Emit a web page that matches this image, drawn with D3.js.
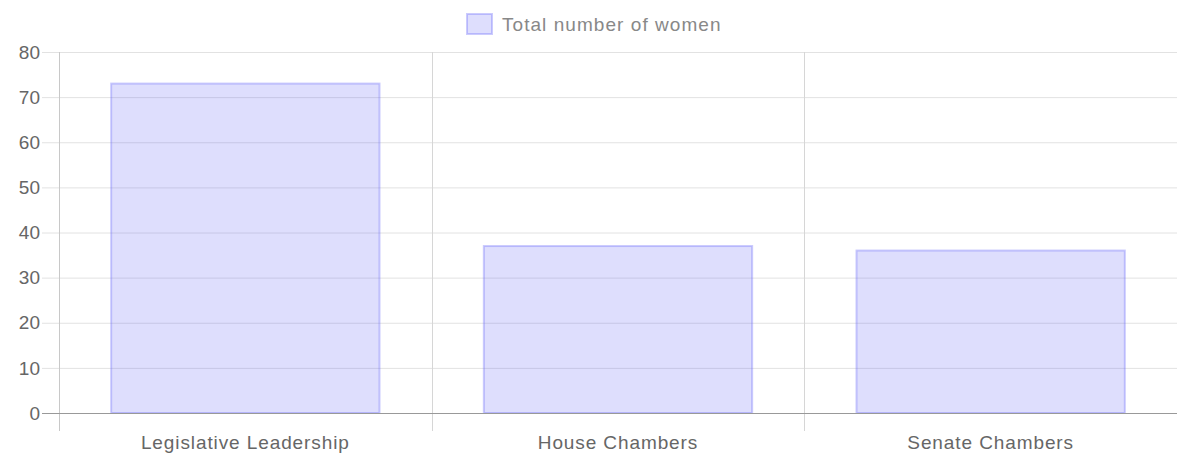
<!DOCTYPE html>
<html><head><meta charset="utf-8">
<script src="https://cdn.jsdelivr.net/npm/d3@7"></script>
<style>body{margin:0;background:#fff}svg{display:block}text{font-family:"Liberation Sans",Arial,Helvetica,sans-serif}</style>
</head><body><svg id="c" width="1200" height="467"></svg>
<script>
const categories = ["Legislative Leadership", "House Chambers", "Senate Chambers"];
const values = [73, 37, 36];
const seriesName = "Total number of women";
const yTicks = [0, 10, 20, 30, 40, 50, 60, 70, 80];

const svg = d3.select("#c");
const m = {l: 59, r: 1177, t: 52, b: 413};
const x = d3.scaleBand().domain(categories).range([m.l, m.r]).paddingInner(0).paddingOuter(0);
const y = d3.scaleLinear().domain([0, 80]).range([m.b, m.t]);
const fill = "rgba(100,100,245,0.21)";
const stroke = "rgba(110,110,250,0.36)";

// horizontal grid
svg.append("g").selectAll("line").data(yTicks).join("line")
  .attr("x1", 42).attr("x2", m.r).attr("y1", d => y(d) + 0.5).attr("y2", d => y(d) + 0.5)
  .attr("stroke", d => d === 0 ? "#999" : "#e2e2e2").attr("stroke-width", 1);
// vertical grid
const vx = [m.l, ...categories.slice(1).map(c => x(c))];
svg.append("g").selectAll("line").data(vx).join("line")
  .attr("x1", d => Math.round(d) + 0.5).attr("x2", d => Math.round(d) + 0.5)
  .attr("y1", m.t).attr("y2", 431)
  .attr("stroke", (d, i) => i === 0 ? "#c8c8c8" : "#d6d6d6");

// bars
const bw = x.bandwidth() * 0.72;
svg.append("g").selectAll("rect").data(values).join("rect")
  .attr("x", (d, i) => x(categories[i]) + (x.bandwidth() - bw) / 2)
  .attr("y", d => y(d))
  .attr("width", bw).attr("height", d => y(0) - y(d))
  .attr("fill", fill).attr("stroke", stroke).attr("stroke-width", 2);

// redraw zero axis line
svg.append("line").attr("x1", 42).attr("x2", m.r).attr("y1", y(0) + 0.5).attr("y2", y(0) + 0.5).attr("stroke", "#999");

// y labels
svg.append("g").selectAll("text").data(yTicks).join("text")
  .attr("x", 40).attr("y", d => y(d)).attr("dy", "0.35em")
  .attr("text-anchor", "end").attr("font-size", 19).attr("fill", "#666").text(d => d);

// x labels
svg.append("g").selectAll("text").data(categories).join("text")
  .attr("x", d => x(d) + x.bandwidth() / 2).attr("y", 449)
  .attr("text-anchor", "middle").attr("font-size", 19).attr("letter-spacing", 0.9)
  .attr("fill", "#666").text(d => d);

// legend
const lg = svg.append("g");
lg.append("rect").attr("x", 467).attr("y", 14).attr("width", 25).attr("height", 20)
  .attr("fill", fill).attr("stroke", stroke).attr("stroke-width", 2);
lg.append("text").attr("x", 502).attr("y", 24).attr("dy", "0.35em")
  .attr("font-size", 19).attr("letter-spacing", 1.05).attr("fill", "#888").text(seriesName);
</script></body></html>
